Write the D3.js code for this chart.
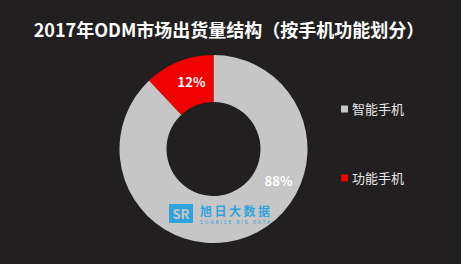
<!DOCTYPE html>
<html>
<head>
<meta charset="utf-8">
<script src="https://cdn.jsdelivr.net/npm/d3@7"></script>
<style>
  html, body { margin: 0; padding: 0; background: #fff; }
  svg { display: block; font-family: "Noto Sans CJK SC", "Noto Sans", sans-serif; }
</style>
</head>
<body>
<div id="vis"></div>
<script>
// chart data
const categories = ["智能手机", "功能手机"]
const shares = [88, 12]
const shareLabels = ["88%", "12%"]
const colors = ["#c6c6c6", "#f20000"]

const width = 464
const height = 266

const svg = d3.select("#vis")
    .append("svg")
    .attr("width", width)
    .attr("height", height)

// dark panel, the screenshot has a thin white edge on the right and bottom
svg.append("rect")
    .attr("x", 0)
    .attr("y", 0)
    .attr("width", 461)
    .attr("height", 264)
    .attr("fill", "#221f20")

svg.append("text")
    .attr("x", 229)
    .attr("y", 37)
    .attr("text-anchor", "middle")
    .attr("fill", "#ffffff")
    .attr("font-size", 18)
    .attr("font-weight", "bold")
    .text("2017年ODM市场出货量结构（按手机功能划分）")

// donut
const cx = 213.5
const cy = 149
const outerR = 94
const innerR = 47

const g = svg.append("g")
    .attr("transform", `translate(${cx}, ${cy})`)

const pie = d3.pie()
    .sort(null)
    .value(d => d)

const arc = d3.arc()
    .innerRadius(innerR)
    .outerRadius(outerR)

const color = d3.scaleOrdinal()
    .domain(categories)
    .range(colors)

const arcs = pie(shares)

g.selectAll(".arc")
    .data(arcs)
    .enter()
    .append("path")
    .attr("class", "arc")
    .attr("d", arc)
    .attr("fill", (d, i) => color(categories[i]))

// percentage labels; the 88% one sits low on the right side of the ring
const labelOffsets = [[65, 32], [-22, -67]]

g.selectAll(".pct")
    .data(arcs)
    .enter()
    .append("text")
    .attr("class", "pct")
    .attr("transform", (d, i) => `translate(${labelOffsets[i][0]}, ${labelOffsets[i][1]})`)
    .attr("text-anchor", "middle")
    .attr("dy", "0.35em")
    .attr("fill", "#ffffff")
    .attr("font-size", 13)
    .attr("font-weight", "bold")
    .text((d, i) => shareLabels[i])

// watermark
const wm = svg.append("g")
    .attr("transform", "translate(169, 204)")
wm.append("rect")
    .attr("width", 24)
    .attr("height", 19)
    .attr("fill", "#2fa4dc")
wm.append("text")
    .attr("x", 12)
    .attr("y", 14.5)
    .attr("text-anchor", "middle")
    .attr("fill", "#c6c6c6")
    .attr("font-size", 13)
    .attr("font-weight", "bold")
    .text("SR")
wm.append("text")
    .attr("x", 31)
    .attr("y", 12)
    .attr("fill", "#2fa4dc")
    .attr("font-size", 12)
    .attr("font-weight", "bold")
    .attr("textLength", 70)
    .text("旭日大数据")
wm.append("text")
    .attr("x", 31)
    .attr("y", 19.5)
    .attr("fill", "#2fa4dc")
    .attr("font-size", 5)
    .attr("textLength", 70)
    .text("SUNRISE BIG DATA")

// legend
const legendY = d3.scalePoint()
    .domain(categories)
    .range([109, 178])

const legend = svg.selectAll(".legend")
    .data(categories)
    .enter()
    .append("g")
    .attr("class", "legend")
    .attr("transform", d => `translate(341, ${legendY(d)})`)

legend.append("rect")
    .attr("x", 0)
    .attr("y", -3.5)
    .attr("width", 7)
    .attr("height", 7)
    .attr("fill", d => color(d))

legend.append("text")
    .attr("x", 11)
    .attr("dy", "0.35em")
    .attr("fill", "#e6e6e6")
    .attr("font-size", 13)
    .text(d => d)
</script>
</body>
</html>
